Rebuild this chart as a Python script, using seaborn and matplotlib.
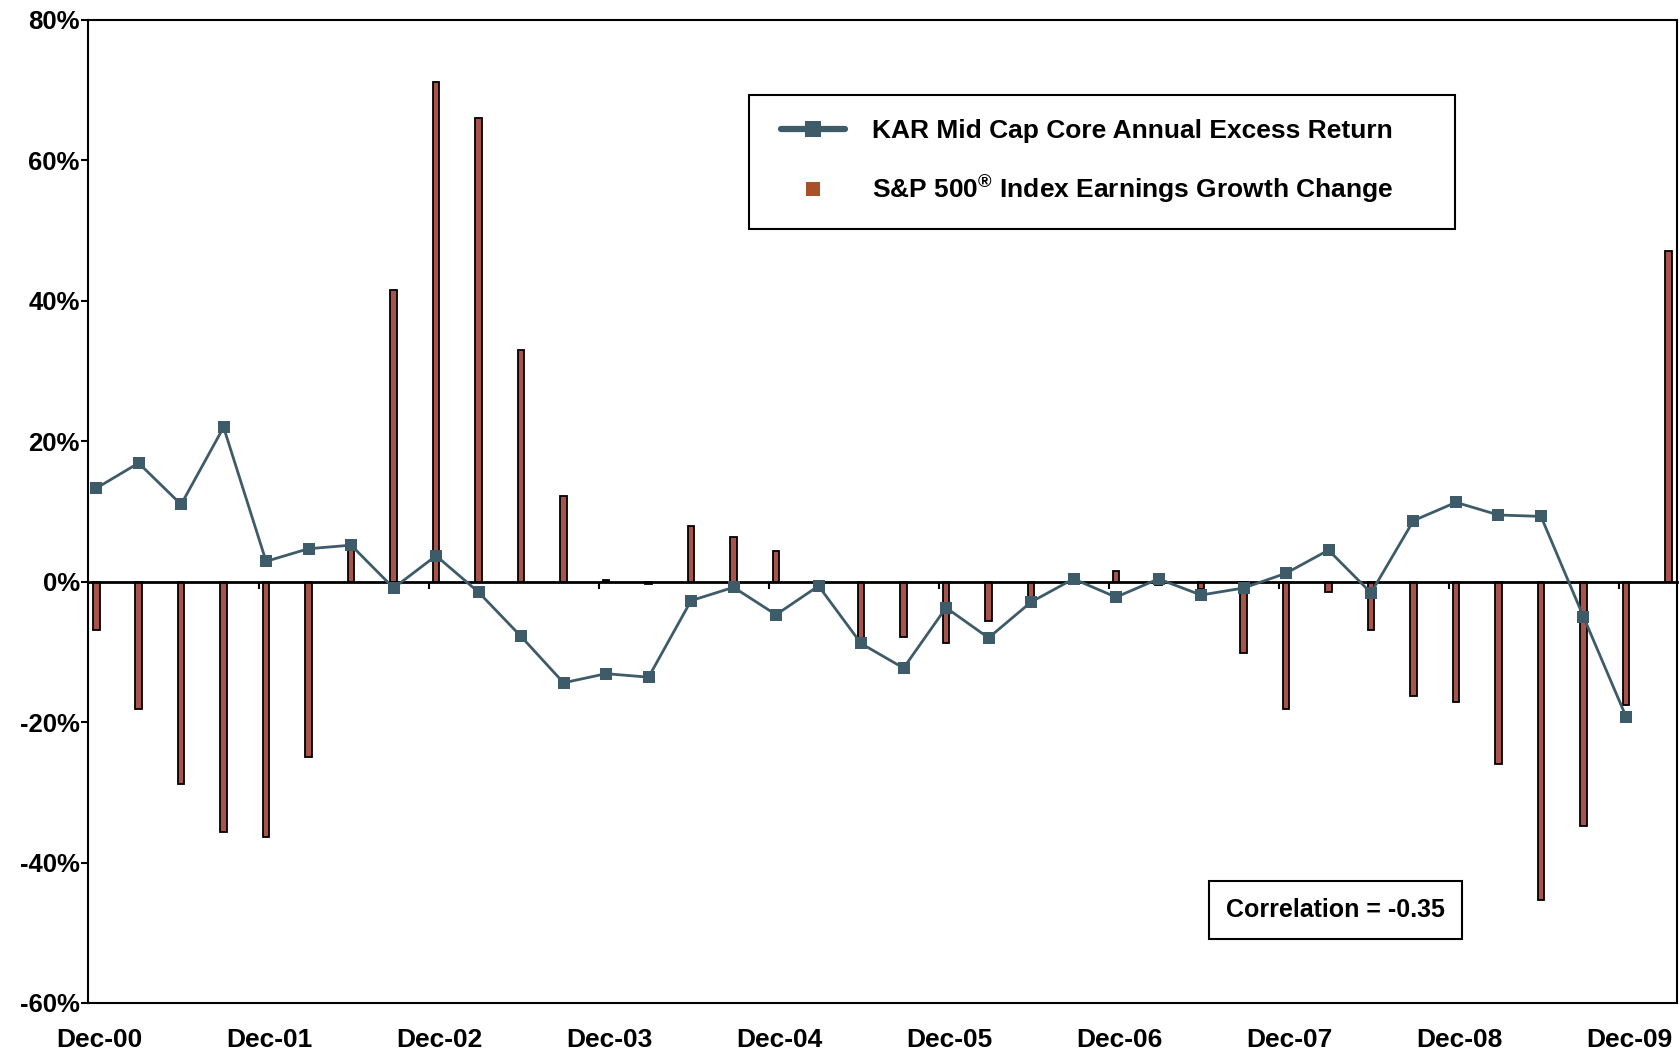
import numpy as np
import pandas as pd
import seaborn as sns
import matplotlib.pyplot as plt
from matplotlib.lines import Line2D
from matplotlib.legend_handler import HandlerLine2D
from matplotlib.ticker import FuncFormatter

# quarter-end labels, Dec-00 .. Mar-10
quarters = ["Dec-00", "Mar-01", "Jun-01", "Sep-01", "Dec-01", "Mar-02", "Jun-02", "Sep-02",
            "Dec-02", "Mar-03", "Jun-03", "Sep-03", "Dec-03", "Mar-04", "Jun-04", "Sep-04",
            "Dec-04", "Mar-05", "Jun-05", "Sep-05", "Dec-05", "Mar-06", "Jun-06", "Sep-06",
            "Dec-06", "Mar-07", "Jun-07", "Sep-07", "Dec-07", "Mar-08", "Jun-08", "Sep-08",
            "Dec-08", "Mar-09", "Jun-09", "Sep-09", "Dec-09", "Mar-10"]

# KAR Mid Cap Core annual excess return (%), Dec-00 .. Dec-09
excess_return = [13.3, 16.9, 11.0, 22.0, 2.9, 4.7, 5.2, -0.9, 3.7, -1.5,
                 -7.8, -14.4, -13.1, -13.6, -2.7, -0.8, -4.7, -0.6, -8.8, -12.3,
                 -3.7, -8.0, -2.9, 0.4, -2.2, 0.4, -1.9, -0.9, 1.2, 4.5,
                 -1.6, 8.7, 11.3, 9.5, 9.3, -5.0, -19.2]

# S&P 500 index earnings growth change (%), Dec-00 .. Mar-10
earnings_change = [-6.9, -18.1, -28.8, -35.6, -36.3, -24.9, 5.1, 41.6, 71.2, 66.0,
                   33.0, 12.2, 0.3, -0.3, 7.9, 6.4, 4.4, 0.0, -8.2, -7.9,
                   -8.7, -5.6, -2.5, 0.0, 1.5, -0.5, -1.0, -10.2, -18.1, -1.5,
                   -6.9, -16.3, -17.1, -26.0, -45.3, -34.8, -17.5, 47.1]

label_every = 4
corr_text = "Correlation = -0.35"

line_color = "#3e5b6a"
bar_color = "#a9544b"
legend_sq_color = "#a85129"

sns.set_theme(style="ticks", rc={"axes.edgecolor": "black", "text.color": "black",
                                 "xtick.color": "black", "ytick.color": "black"})
plt.rcParams["font.family"] = ["Liberation Sans", "DejaVu Sans"]
plt.rcParams["font.weight"] = "bold"
plt.rcParams["mathtext.fontset"] = "custom"
plt.rcParams["mathtext.rm"] = "Liberation Sans:bold"

bars = pd.DataFrame({"pos": np.arange(len(earnings_change)), "value": earnings_change})
line = pd.DataFrame({"pos": np.arange(len(excess_return)), "value": excess_return})

fig = plt.figure(figsize=(16.8, 10.52), dpi=100)
ax = fig.add_axes([0.0524, 0.0466, 0.9458, 0.9344])

sns.barplot(data=bars, x="pos", y="value", native_scale=True, width=0.16,
            color=bar_color, saturation=1, edgecolor="black", linewidth=1.3,
            ax=ax, zorder=2)
sns.lineplot(data=line, x="pos", y="value", color=line_color, linewidth=2.0,
             marker="s", markersize=8.8, markeredgewidth=0, ax=ax, zorder=4)

ax.set_xlim(-0.19, len(earnings_change) - 1 + 0.2)
ax.set_ylim(-60, 80)
ax.set_yticks(range(-60, 81, 20))
ax.yaxis.set_major_formatter(FuncFormatter(lambda v, p: f"{int(v)}%"))
tick_pos = list(range(0, len(quarters), label_every))[:10]
ax.set_xticks([p + 0.07 for p in tick_pos], [quarters[p] for p in tick_pos])
ax.tick_params(axis="x", length=0, pad=18, labelsize=19)
ax.tick_params(axis="y", length=5, width=1.5, direction="out", pad=1, labelsize=18.5)
ax.set_xlabel("")
ax.set_ylabel("")
for s in ax.spines.values():
    s.set_visible(True)
    s.set_color("black")
    s.set_linewidth(1.5)

# zero line with small tick marks hanging below it
zero_frac = (0 - (-60)) / (80 - (-60))
sec = ax.secondary_xaxis(zero_frac)
sec.set_alignment("bottom")
sec.set_xticks([p - 0.17 for p in tick_pos[1:]], [""] * len(tick_pos[1:]))
sec.tick_params(axis="x", direction="out", length=5, width=1.5, colors="black")
for s in sec.spines.values():
    s.set_color("black")
    s.set_linewidth(2)
sec.set_zorder(3)

handles = [Line2D([], [], color=line_color, lw=4.5, marker="s", markersize=12, markeredgewidth=0),
           Line2D([], [], ls="none", marker="s", markersize=10, color=legend_sq_color, markeredgewidth=0)]
labels = ["KAR Mid Cap Core Annual Excess Return",
          r"S&P 500$^{\mathrm{®}}$ Index Earnings Growth Change"]
leg = ax.legend(handles, labels, loc="upper left", bbox_to_anchor=(0.416, 0.7967, 0.4443, 0.127),
                mode="expand", borderaxespad=0, fontsize=19, frameon=True, fancybox=False,
                edgecolor="black", framealpha=1, borderpad=0.92, labelspacing=1.1,
                handlelength=2.7, handletextpad=1.05,
                handler_map={Line2D: HandlerLine2D(xpad=0.3)})
leg.get_frame().set_linewidth(1.5)
leg.set_zorder(5)

ax.text(0.785, 0.0946, corr_text, transform=ax.transAxes, ha="center", va="center",
        fontsize=18, fontweight="bold",
        bbox=dict(boxstyle="square,pad=0.68", fc="white", ec="black", lw=1.5))

fig.savefig("out.png", dpi=100)
